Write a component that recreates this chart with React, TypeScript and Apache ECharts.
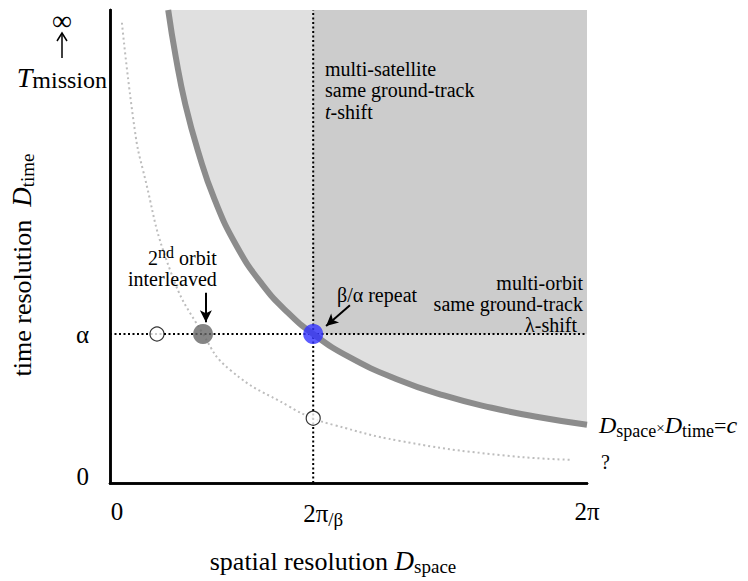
import React, { useEffect, useRef } from "react";
import * as echarts from "echarts";

// Axis scale: x in percent of 2π, y in percent of T_mission
const xTickValues = [0, 42.6, 100];
const xTickLabels = ["0", "2π/β", "2π"];
const yTickValues = [0, 31.5];
const yTickLabels = ["0", "α"];

// Thick boundary curve D_space × D_time = c
const curveX = [12.2, 13.8, 15.8, 18.5, 21.9, 26.6, 31.9, 37.3, 42.6, 50, 60, 70, 80, 90, 100];
const curveY = [100, 90, 80, 70, 60, 50, 42, 36, 31.5, 26.7, 22.0, 18.5, 15.9, 13.9, 12.3];

// Light dotted curve
const dotX = [2.5, 5.2, 6.9, 12.6, 19.5, 25.2, 37.7, 42.6, 46.8, 60.8, 81.8, 96.9];
const dotY = [97.3, 74.6, 66.2, 45.0, 31.5, 23.9, 16.1, 13.7, 12.3, 8.9, 5.9, 4.9];

const alphaY = 31.5;
const betaX = 42.6;
const openPoints = [[9.85, 31.5], [42.6, 13.7]];
const darkPoint = [19.5, 31.5];
const bluePoint = [42.6, 31.5];
const arrowRepeat = [[50.3, 37.6], [45.3, 33.2]];
const arrowOrbit = [[20.1, 40.2], [20.1, 34.0]];

const FF = '"Liberation Serif", "Times New Roman", serif';

function tok(size: number, extra: any = {}) {
  const italic = extra.fontStyle === "italic";
  return {
    fontFamily: FF,
    fontSize: size,
    fill: "#000",
    color: "#000",
    font: (italic ? "italic " : "") + size + "px " + FF,
    ...extra,
  };
}

export default function App() {
  const ref = useRef<HTMLDivElement>(null);
  useEffect(() => {
    if (!ref.current) return;
    const chart = echarts.init(ref.current, null, { renderer: "svg" });
    const curve = curveX.map((x, i) => [x, curveY[i]]);
    const dots = dotX.map((x, i) => [x, dotY[i]]);
    const axisLine = { show: true, lineStyle: { color: "#000", width: 2.5 } };
    const txt = (x: number, y: number, text: string, size: number, extra: any = {}, rich?: any) => ({
      type: "text",
      x,
      y,
      z: 20,
      style: {
        text,
        font: size + "px " + FF,
        fontFamily: FF,
        fontSize: size,
        fill: "#000",
        verticalAlign: "middle",
        ...extra,
        ...(rich ? { rich } : {}),
      },
    });
    const option: any = {
      animation: false,
      backgroundColor: "#fff",
      textStyle: { fontFamily: FF },
      grid: {
        left: 110, top: 10, right: 161, bottom: 98,
        show: true, backgroundColor: "#e0e0e0", borderWidth: 0,
        outerBoundsMode: "none", containLabel: false,
      },
      xAxis: [
        {
          type: "value", min: 0, max: 100, position: "bottom", z: 10,
          axisLine, axisTick: { show: false }, splitLine: { show: false },
          axisLabel: {
            customValues: xTickValues,
            margin: 14,
            fontFamily: FF,
            color: "#000",
            formatter: (v: number) => {
              const i = xTickValues.indexOf(v);
              const s = xTickLabels[i] ?? "";
              if (i === 0) return "{p0|}{n|" + s + "}";
              if (s.includes("/")) {
                const [a, b] = s.split("/");
                return "{p1|}{n|" + a + "}{s|/" + b + "}";
              }
              return "{n|" + s + "}";
            },
            rich: {
              n: { fontFamily: FF, fontSize: 25, lineHeight: 28, color: "#000" },
              s: { fontFamily: FF, fontSize: 19, color: "#000", padding: [13, 0, 0, 0] },
              p0: { width: 14 },
              p1: { width: 20 },
            },
          },
        },
        {
          type: "value", min: 0, max: 100, position: "top", z: 10,
          axisLine, axisTick: { show: false }, splitLine: { show: false }, axisLabel: { show: false },
        },
      ],
      yAxis: [
        {
          type: "value", min: 0, max: 100, position: "left", z: 10,
          axisLine, axisTick: { show: false }, splitLine: { show: false },
          axisLabel: {
            customValues: yTickValues,
            margin: 21,
            formatter: (v: number) => {
              const i = yTickValues.indexOf(v);
              const s = yTickLabels[i] ?? "";
              return i === 0 ? "{u|" + s + "}" : "{n|" + s + "}";
            },
            rich: {
              n: { fontFamily: FF, fontSize: 25, color: "#000" },
              u: { fontFamily: FF, fontSize: 25, color: "#000", padding: [0, 0, 14, 0] },
            },
          },
        },
        {
          type: "value", min: 0, max: 100, position: "right", z: 10,
          axisLine, axisTick: { show: false }, splitLine: { show: false }, axisLabel: { show: false },
        },
      ],
      series: [
        {
          type: "line", data: curve, smooth: true, symbol: "none", silent: true, z: 1,
          lineStyle: { width: 0, opacity: 0 },
          areaStyle: { color: "#ffffff", opacity: 1 },
          markArea: {
            silent: true,
            data: [
              [{ coord: [0, 0], itemStyle: { color: "#ffffff", opacity: 1 } }, { coord: [curveX[0] + 0.4, 100] }],
              [{ coord: [betaX, alphaY], itemStyle: { color: "#cccccc", opacity: 1 } }, { coord: [100, 100] }],
            ],
          },
        },
        {
          type: "line", data: dots, smooth: true, symbol: "none", silent: true, z: 3,
          lineStyle: { color: "#bdbdbd", width: 2, type: [2, 3] },
        },
        {
          type: "line", data: [[0, alphaY], [100, alphaY]], symbol: "none", silent: true, z: 4,
          lineStyle: { color: "#000", width: 2, type: [2, 2.5] },
        },
        {
          type: "line", data: [[betaX, 0], [betaX, 100]], symbol: "none", silent: true, z: 4,
          lineStyle: { color: "#000", width: 2, type: [2, 2.5] },
        },
        {
          type: "line", data: curve, smooth: true, symbol: "none", silent: true, z: 5,
          lineStyle: { color: "#8c8c8c", width: 6 },
        },
        {
          type: "scatter", silent: true, z: 6,
          data: [
            ...openPoints.map((p) => ({
              value: p, symbolSize: 14,
              itemStyle: { color: "#fff", borderColor: "#000", borderWidth: 1.2 },
            })),
            { value: darkPoint, symbolSize: 20, itemStyle: { color: "#666666" } },
            { value: bluePoint, symbolSize: 20, itemStyle: { color: "#3333ff" } },
          ],
          markLine: {
            silent: true,
            symbol: ["none", "arrow"],
            symbolSize: [9, 12],
            label: { show: false },
            lineStyle: { color: "#000", width: 2, type: "solid" },
            data: [
              [{ coord: arrowRepeat[0] }, { coord: arrowRepeat[1] }],
              [{ coord: arrowOrbit[0] }, { coord: arrowOrbit[1] }],
            ],
          },
        },
      ],
      graphic: {
        elements: [
          // T_mission ↑ ∞
          txt(62, 20, "∞", 28, { align: "center" }),
          { type: "line", z: 20, shape: { x1: 62, y1: 58, x2: 62, y2: 34 }, style: { stroke: "#000", lineWidth: 1.5 } },
          { type: "polyline", z: 20, shape: { points: [[57, 41], [62, 33], [67, 41]] }, style: { stroke: "#000", lineWidth: 1.5, fill: null } },
          txt(107, 77, "{i|T}{s|mission}", 28, { align: "right" }, {
            i: tok(28, { fontStyle: "italic" }),
            s: tok(24, { padding: [6, 0, 0, 0] }),
          }),
          // y axis title
          {
            ...txt(22, 265, "{n|time resolution  }{i|D}{s|time}", 26, { align: "center" }, {
              n: tok(26),
              i: tok(27, { fontStyle: "italic" }),
              s: tok(19, { padding: [10, 0, 0, 0] }),
            }),
            rotation: Math.PI / 2,
          },
          // x axis title
          txt(333, 561, "{n|spatial resolution }{i|D}{s|space}", 26, { align: "center" }, {
            n: tok(26),
            i: tok(27, { fontStyle: "italic" }),
            s: tok(19, { padding: [10, 0, 0, 0] }),
          }),
          // multi-satellite annotation
          txt(325, 69, "multi-satellite", 20),
          txt(325, 90, "same ground-track", 20),
          txt(325, 112, "{i|t}{n|-shift}", 20, {}, {
            i: tok(20, { fontStyle: "italic" }),
            n: tok(20),
          }),
          // multi-orbit annotation
          txt(583, 283, "multi-orbit", 20, { align: "right" }),
          txt(583, 304, "same ground-track", 20, { align: "right" }),
          txt(577, 325, "λ-shift", 20, { align: "right" }),
          // β/α repeat
          txt(337, 295, "β/α repeat", 20),
          // 2nd orbit interleaved
          txt(148, 258, "{n|2}{p|nd}{n| orbit}", 20, {}, {
            n: tok(20),
            p: tok(16, { padding: [0, 0, 12, 0] }),
          }),
          txt(128, 279, "interleaved", 20),
          // D_space × D_time = c
          txt(599, 425, "{i|D}{s|space}{x|×}{i|D}{s|time}{e|=}{i|c}", 23, {}, {
            i: tok(24, { fontStyle: "italic" }),
            s: tok(18, { padding: [11, 0, 0, 0] }),
            x: tok(15, { padding: [5, 0, 0, 0] }),
            e: tok(22),
          }),
          txt(601, 462, "?", 20),
        ],
      },
    };
    chart.setOption(option);
    return () => chart.dispose();
  }, []);
  return (
    <div
      ref={ref}
      style={{ position: "fixed", left: 0, top: 0, width: 748, height: 581, background: "#fff" }}
    />
  );
}
